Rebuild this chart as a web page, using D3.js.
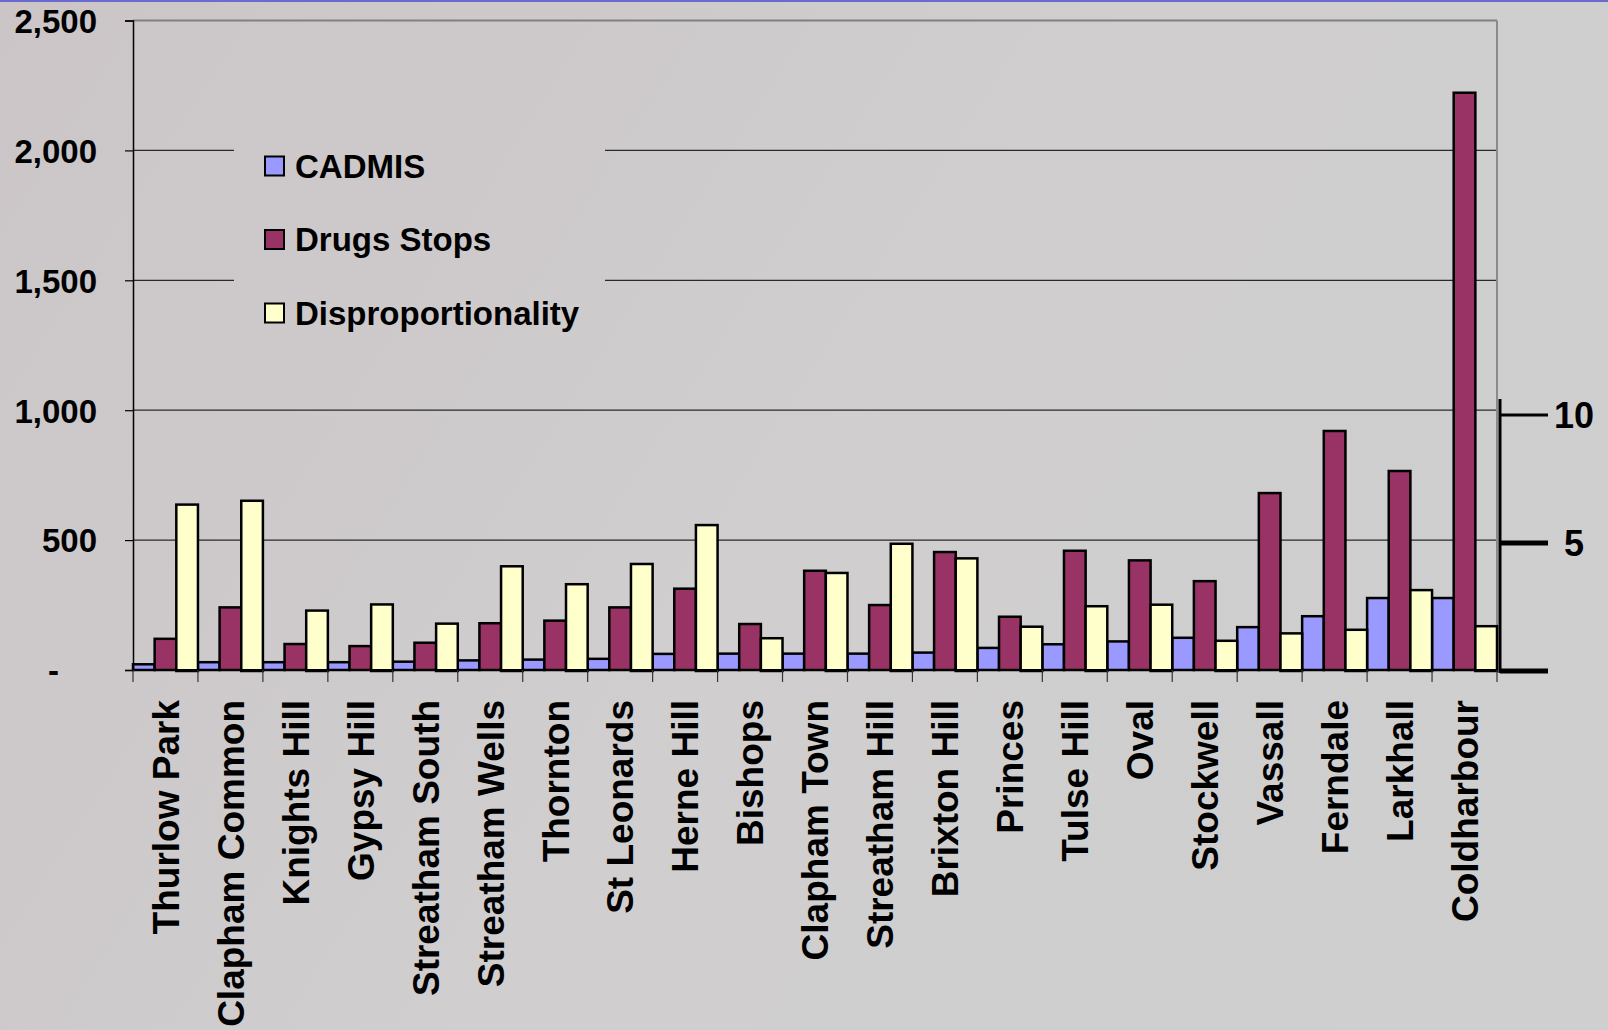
<!DOCTYPE html>
<html lang="en">
<head>
<meta charset="UTF-8" />
<title>Drugs stops by ward</title>
<style>
  html, body { margin: 0; padding: 0; }
  body { width: 1608px; height: 1030px; overflow: hidden; background: #cecbcc; }
  text { font-family: "Liberation Sans", Arial, sans-serif; font-weight: bold; fill: #000; }
</style>
</head>
<body>
<script src="https://cdn.jsdelivr.net/npm/d3@7"></script>
<script>
  const wards = ["Thurlow Park", "Clapham Common", "Knights Hill", "Gypsy Hill", "Streatham South",
    "Streatham Wells", "Thornton", "St Leonards", "Herne Hill", "Bishops", "Clapham Town",
    "Streatham Hill", "Brixton Hill", "Princes", "Tulse Hill", "Oval", "Stockwell", "Vassall",
    "Ferndale", "Larkhall", "Coldharbour"];
  const cadmis = [22, 30, 30, 30, 32, 37, 40, 43, 62, 63, 63, 63, 67, 85, 99, 110, 124, 165, 207, 277, 277];
  const drugsStops = [120, 241, 100, 92, 105, 180, 190, 241, 313, 177, 382, 250, 454, 205, 459, 422, 342, 681, 920, 766, 2222];
  const dispro = [6.5, 6.65, 2.36, 2.6, 1.85, 4.09, 3.39, 4.18, 5.7, 1.28, 3.83, 4.97, 4.4, 1.73, 2.53, 2.59, 1.18, 1.47, 1.61, 3.16, 1.75];
  const leftTicks = [0, 500, 1000, 1500, 2000, 2500];
  const rightTicks = [0, 5, 10];

  const width = 1608, height = 1030;
  const svg = d3.select("body").append("svg")
    .attr("width", width).attr("height", height);

  // faded background (user space so the legend box can reuse it)
  const defs = svg.append("defs");
  const bg = defs.append("linearGradient").attr("id", "bg").attr("gradientUnits", "userSpaceOnUse")
    .attr("x1", 0).attr("y1", 0).attr("x2", width).attr("y2", height);
  bg.append("stop").attr("offset", "0%").attr("stop-color", "#cbc5c7");
  bg.append("stop").attr("offset", "50%").attr("stop-color", "#d0cecf");
  bg.append("stop").attr("offset", "100%").attr("stop-color", "#cfcfcf");
  svg.append("rect").attr("width", width).attr("height", height).attr("fill", "url(#bg)");
  svg.append("rect").attr("width", width).attr("height", 2).attr("fill", "#6a6acf");

  const plotL = 133, plotR = 1497, plotT = 20.5, plotB = 670;

  const x = d3.scaleBand().domain(wards).range([plotL, plotR]).padding(0);
  const y = d3.scaleLinear().domain([0, 2500]).range([plotB, plotT]);
  const yRight = d3.scaleLinear().domain([0, 10]).range([671, 415]);
  const sub = d3.scaleBand().domain([0, 1, 2]).range([0, x.bandwidth()]).padding(0);

  // gridlines
  svg.append("g").selectAll("line").data(leftTicks.filter(d => d > 0 && d < 2500)).join("line")
    .attr("x1", plotL).attr("x2", plotR)
    .attr("y1", d => y(d)).attr("y2", d => y(d))
    .attr("stroke", "#2a2a2a").attr("stroke-width", 1.2);
  svg.append("line").attr("x1", plotL).attr("x2", plotR).attr("y1", y(2500)).attr("y2", y(2500))
    .attr("stroke", "#808080").attr("stroke-width", 2);
  svg.append("line").attr("x1", plotR).attr("x2", plotR).attr("y1", y(2500)).attr("y2", plotB)
    .attr("stroke", "#8a8a8a").attr("stroke-width", 2);

  // legend box hides the gridlines behind it
  svg.append("rect").attr("x", 234).attr("y", 122).attr("width", 371).attr("height", 215)
    .attr("fill", "url(#bg)");

  // bars
  const series = [
    { name: "CADMIS", values: cadmis, color: "#9999ff", scale: y },
    { name: "Drugs Stops", values: drugsStops, color: "#993366", scale: y },
    { name: "Disproportionality", values: dispro, color: "#ffffcc", scale: yRight }
  ];
  series.forEach((s, si) => {
    svg.append("g").selectAll("rect").data(s.values).join("rect")
      .attr("x", (d, i) => x(wards[i]) + sub(si))
      .attr("width", sub.bandwidth())
      .attr("y", d => s.scale(d))
      .attr("height", d => s.scale(0) - s.scale(d))
      .attr("fill", s.color)
      .attr("stroke", "#000").attr("stroke-width", 2.5);
  });

  // left axis
  const yAxis = d3.axisLeft(y).tickValues(leftTicks).tickSize(8).tickPadding(28)
    .tickFormat(d => d === 0 ? "-" : d3.format(",")(d));
  const gy = svg.append("g").attr("transform", `translate(${plotL},0)`).call(yAxis);
  gy.select(".domain").attr("stroke", "#000").attr("stroke-width", 1.5);
  gy.selectAll(".tick line").attr("stroke", "#000").attr("stroke-width", 1.2);
  gy.selectAll(".tick text").style("font-size", "33px").attr("dy", "0.36em")
    .attr("dx", d => d === 0 ? -38 : 0);

  // bottom axis with ticks between categories
  svg.append("line").attr("x1", plotL).attr("x2", plotR).attr("y1", plotB).attr("y2", plotB)
    .attr("stroke", "#000").attr("stroke-width", 2);
  svg.append("g").selectAll("line").data(wards.concat([null])).join("line")
    .attr("x1", (d, i) => plotL + i * x.bandwidth()).attr("x2", (d, i) => plotL + i * x.bandwidth())
    .attr("y1", plotB).attr("y2", plotB + 12)
    .attr("stroke", "#333").attr("stroke-width", 1.2);
  svg.append("g").selectAll("text").data(wards).join("text")
    .attr("transform", d => `translate(${x(d) + x.bandwidth() / 2},700) rotate(-90)`)
    .attr("text-anchor", "end").attr("dy", "0.36em")
    .style("font-size", "37px")
    .text(d => d);

  // secondary scale
  const ry = svg.append("g");
  ry.append("line").attr("x1", 1500).attr("x2", 1500).attr("y1", 399).attr("y2", 673)
    .attr("stroke", "#000").attr("stroke-width", 3);
  ry.selectAll(".rt").data(rightTicks).join("line")
    .attr("x1", 1500).attr("x2", 1548)
    .attr("y1", d => yRight(d)).attr("y2", d => yRight(d))
    .attr("stroke", "#000").attr("stroke-width", d => d === 10 ? 3 : 5);
  ry.selectAll("text").data(rightTicks.filter(d => d > 0)).join("text")
    .attr("x", 1574).attr("y", d => yRight(d)).attr("dy", "0.36em")
    .attr("text-anchor", "middle").style("font-size", "36px")
    .text(d => d);

  // legend
  const lg = svg.append("g").selectAll("g").data(series).join("g")
    .attr("transform", (d, i) => `translate(265,${166 + i * 73.5})`);
  lg.append("rect").attr("x", 0).attr("y", -9.5).attr("width", 19).attr("height", 19)
    .attr("fill", d => d.color).attr("stroke", "#000").attr("stroke-width", 2);
  lg.append("text").attr("x", 30).attr("dy", "0.36em").style("font-size", "33px")
    .text(d => d.name);
</script>
</body>
</html>
